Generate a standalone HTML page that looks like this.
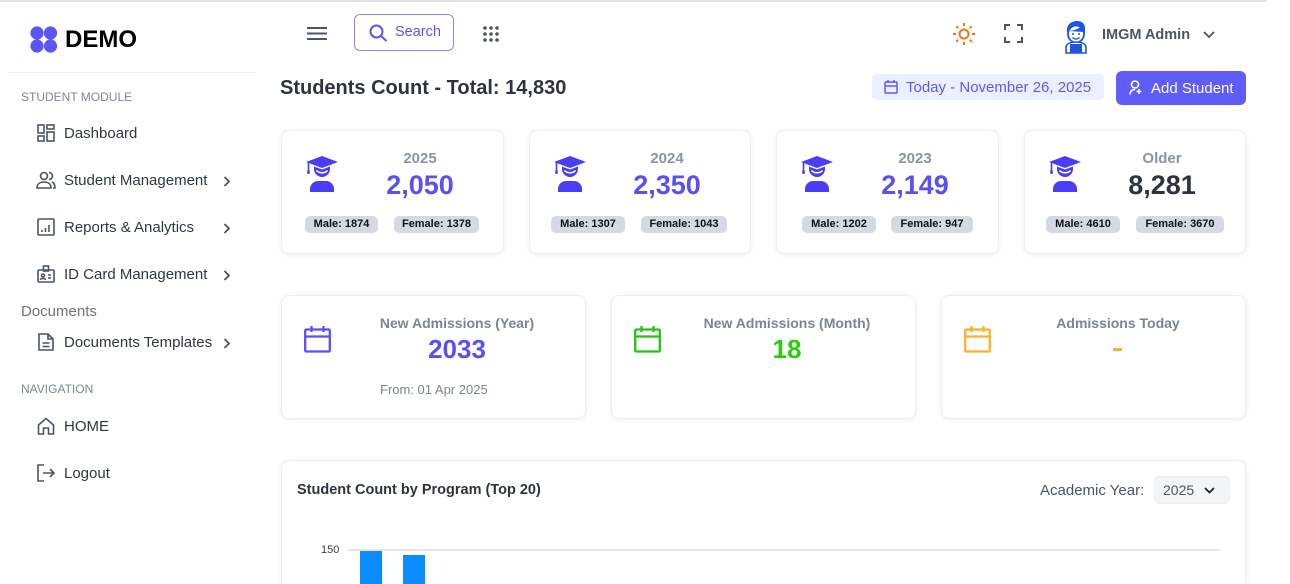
<!DOCTYPE html>
<html><head><meta charset="utf-8">
<style>
*{margin:0;padding:0;box-sizing:border-box}
html,body{width:1290px;height:584px;overflow:hidden;background:#fff;font-family:"Liberation Sans",Arial,sans-serif}
.t{position:absolute;white-space:nowrap;line-height:1}
.card{position:absolute;background:#fff;border:1px solid #eceef2;border-radius:8px;box-shadow:0 1px 5px rgba(0,0,0,0.07)}
.pill{position:absolute;height:17px;line-height:17px;background:#d5d9e1;border-radius:5px;font-size:11px;font-weight:bold;color:#111;text-align:center;white-space:nowrap}
.nav{font-size:15px;color:#2d3748}
svg{position:absolute;overflow:visible}
</style></head><body>
<!-- top line -->
<div style="position:absolute;left:0;top:0;width:1267px;height:2px;background:#e2e2e2"></div>

<!-- Logo -->
<svg style="left:30px;top:26px" width="28" height="27" viewBox="0 0 28 27">
<circle cx="7" cy="7" r="6.6" fill="#5b55f5"/><circle cx="20.5" cy="7" r="6.6" fill="#5b55f5"/>
<circle cx="7" cy="20" r="6.6" fill="#5b55f5"/><circle cx="20.5" cy="20" r="6.6" fill="#5b55f5"/>
</svg>
<div class="t" style="left:65px;top:28px;font-size:24px;font-weight:bold;color:#000">DEMO</div>
<div style="position:absolute;left:8px;top:72px;width:247px;height:1px;background:#eef0f4"></div>

<!-- Sidebar -->
<div class="t" style="left:21px;top:91px;font-size:12px;color:#7b8794">STUDENT MODULE</div>

<svg style="left:37px;top:124px" width="18" height="18" viewBox="0 0 18 18" fill="none" stroke="#4a5568" stroke-width="1.6">
<rect x="1" y="1" width="6" height="8"/><rect x="10" y="1" width="7" height="4"/><rect x="1" y="12" width="6" height="5"/><rect x="10" y="8" width="7" height="9"/></svg>
<div class="t nav" style="left:64px;top:126px">Dashboard</div>

<svg style="left:36px;top:171px" width="20" height="18" viewBox="0 0 20 18" fill="none" stroke="#4a5568" stroke-width="1.6">
<circle cx="8" cy="5" r="3.5"/><path d="M1 17c0-4 3-6 7-6s7 2 7 6z"/><path d="M13 1.5a3.5 3.5 0 0 1 0 7M16 11c2 1 3 3 3 6h-2"/></svg>
<div class="t nav" style="left:64px;top:173px">Student Management</div>
<svg style="left:223px;top:176px" width="8" height="11" viewBox="0 0 8 11" fill="none" stroke="#4a5568" stroke-width="1.8"><path d="M1.5 1l4.5 4.5-4.5 4.5"/></svg>

<svg style="left:37px;top:218px" width="18" height="18" viewBox="0 0 18 18" fill="none" stroke="#4a5568" stroke-width="1.6">
<rect x="1" y="1" width="16" height="16" rx="1"/><path d="M5 14v-2M8.5 14v-4M12 14v-7"/></svg>
<div class="t nav" style="left:64px;top:220px">Reports &amp; Analytics</div>
<svg style="left:223px;top:223px" width="8" height="11" viewBox="0 0 8 11" fill="none" stroke="#4a5568" stroke-width="1.8"><path d="M1.5 1l4.5 4.5-4.5 4.5"/></svg>

<svg style="left:37px;top:265px" width="18" height="18" viewBox="0 0 18 18" fill="none" stroke="#4a5568" stroke-width="1.6">
<rect x="1" y="5" width="16" height="12" rx="1"/><rect x="6.5" y="1" width="5" height="5"/><circle cx="6" cy="10.5" r="1.5"/><path d="M3.5 15c0-2 5-2 5 0M11 10h3M11 13h3"/></svg>
<div class="t nav" style="left:64px;top:267px">ID Card Management</div>
<svg style="left:223px;top:270px" width="8" height="11" viewBox="0 0 8 11" fill="none" stroke="#4a5568" stroke-width="1.8"><path d="M1.5 1l4.5 4.5-4.5 4.5"/></svg>

<div class="t" style="left:21px;top:304px;font-size:15px;color:#6b7280">Documents</div>

<svg style="left:38px;top:333px" width="16" height="18" viewBox="0 0 16 18" fill="none" stroke="#4a5568" stroke-width="1.6">
<path d="M1 1h9l5 5v11H1z"/><path d="M10 1v5h5M4.5 10h7M4.5 13.5h7"/></svg>
<div class="t nav" style="left:64px;top:335px">Documents Templates</div>
<svg style="left:223px;top:338px" width="8" height="11" viewBox="0 0 8 11" fill="none" stroke="#4a5568" stroke-width="1.8"><path d="M1.5 1l4.5 4.5-4.5 4.5"/></svg>

<div class="t" style="left:21px;top:383px;font-size:12px;color:#7b8794">NAVIGATION</div>

<svg style="left:37px;top:417px" width="18" height="18" viewBox="0 0 18 18" fill="none" stroke="#4a5568" stroke-width="1.6">
<path d="M1.5 8L9 1.5 16.5 8v9h-5v-6h-5v6h-5z"/></svg>
<div class="t nav" style="left:64px;top:419px">HOME</div>

<svg style="left:37px;top:464px" width="18" height="18" viewBox="0 0 18 18" fill="none" stroke="#4a5568" stroke-width="1.6">
<path d="M7 1H1v16h6M6 9h11M13 5l4 4-4 4"/></svg>
<div class="t nav" style="left:64px;top:466px">Logout</div>

<!-- Header -->
<svg style="left:307px;top:27px" width="20" height="13" viewBox="0 0 20 13" fill="none" stroke="#4a5568" stroke-width="2"><path d="M0 1h20M0 6.5h20M0 12h20"/></svg>
<div style="position:absolute;left:354px;top:14px;width:100px;height:37px;border:1px solid #8d86f6;border-radius:6px"></div>
<svg style="left:369px;top:24px" width="19" height="18" viewBox="0 0 19 18" fill="none" stroke="#5b55f0" stroke-width="2"><circle cx="7.5" cy="7.5" r="6"/><path d="M12 12l5.5 5"/></svg>
<div class="t" style="left:395px;top:25px;font-size:14.5px;color:#5b55f0">Search</div>
<svg style="left:483px;top:26px" width="16" height="16" viewBox="0 0 16 16" fill="#4a5568">
<circle cx="2" cy="2" r="1.8"/><circle cx="8" cy="2" r="1.8"/><circle cx="14" cy="2" r="1.8"/>
<circle cx="2" cy="8" r="1.8"/><circle cx="8" cy="8" r="1.8"/><circle cx="14" cy="8" r="1.8"/>
<circle cx="2" cy="14" r="1.8"/><circle cx="8" cy="14" r="1.8"/><circle cx="14" cy="14" r="1.8"/></svg>

<svg style="left:953px;top:23px" width="22" height="22" viewBox="0 0 22 22" fill="none" stroke="#f97316" stroke-width="2">
<circle cx="11" cy="11" r="4.5"/><path d="M11 0v3M11 19v3M0 11h3M19 11h3M3.2 3.2l2.1 2.1M16.7 16.7l2.1 2.1M3.2 18.8l2.1-2.1M16.7 5.3l2.1-2.1"/></svg>
<svg style="left:1004px;top:24px" width="19" height="19" viewBox="0 0 19 19" fill="none" stroke="#4a5568" stroke-width="2">
<path d="M1 6V1h5M13 1h5v5M18 13v5h-5M6 18H1v-5"/></svg>

<svg style="left:1063px;top:20px" width="26" height="33" viewBox="0 0 26 33">
<path d="M4 12c-1-7 4-11 10-11 5 0 8 3 8 7v5z" fill="#1f56e0"/>
<ellipse cx="13" cy="14" rx="8" ry="8.5" fill="#fff" stroke="#1f56e0" stroke-width="1.8"/>
<path d="M5 11c3 0 9-1 14-5l2 6z" fill="#1f56e0"/>
<circle cx="10" cy="14" r="1" fill="#1f56e0"/><circle cx="16" cy="14" r="1" fill="#1f56e0"/>
<path d="M9.5 17.5c2 2 5 2 7 0" fill="none" stroke="#1f56e0" stroke-width="1.3"/>
<path d="M3 33v-5c0-4 4-6 10-6s10 2 10 6v5z" fill="#fff" stroke="#1f56e0" stroke-width="1.6"/>
<path d="M7 33v-9h12v9z" fill="#1f56e0"/>
</svg>
<div class="t" style="left:1102px;top:28px;font-size:14.5px;font-weight:bold;color:#4b5563">IMGM Admin</div>
<svg style="left:1203px;top:31px" width="12" height="8" viewBox="0 0 12 8" fill="none" stroke="#4a5568" stroke-width="1.8"><path d="M1 1l5 5 5-5"/></svg>

<!-- Title row -->
<div class="t" style="left:280px;top:78px;font-size:20px;font-weight:bold;color:#2d3340">Students Count - Total: 14,830</div>
<div style="position:absolute;left:872px;top:74px;width:232px;height:26px;background:#eceffd;border-radius:4px"></div>
<svg style="left:884px;top:80px" width="14" height="14" viewBox="0 0 14 14" fill="none" stroke="#5f5af0" stroke-width="1.5"><rect x="1" y="2" width="12" height="11" rx="1"/><path d="M1 6h12M4 0v3M10 0v3"/></svg>
<div class="t" style="left:906px;top:80px;font-size:15px;color:#5f5af0">Today - November 26, 2025</div>
<div style="position:absolute;left:1116px;top:71px;width:130px;height:34px;background:#605cf8;border-radius:6px"></div>
<svg style="left:1129px;top:80px" width="14" height="15" viewBox="0 0 14 15" fill="none" stroke="#fff" stroke-width="1.6"><circle cx="6" cy="4.5" r="3.5"/><path d="M1 14.5c0-3 2-5 5-5M10 9v5M7.5 11.5h5"/></svg>
<div class="t" style="left:1151px;top:81px;font-size:15px;color:#fff">Add Student</div>

<!-- Stat cards row 1 -->
<div class="card" style="left:281px;top:130px;width:223px;height:124px"></div>
<div class="card" style="left:529px;top:130px;width:222px;height:124px"></div>
<div class="card" style="left:776px;top:130px;width:223px;height:124px"></div>
<div class="card" style="left:1024px;top:130px;width:222px;height:124px"></div>

<svg style="left:306px;top:156px" width="32" height="36" viewBox="0 0 32 36" fill="#4a3df5">
<path d="M16 0L32 6 16 12 0 6z"/><path d="M2.5 6.5v9" stroke="#4a3df5" stroke-width="1.6"/><rect x="1.2" y="14" width="2.6" height="4" rx="1"/>
<path d="M8 10.5L16 13.5 24 10.5V13a8 8 0 0 1-16 0z"/><path d="M10.5 14.5c2.5 3 8.5 3 11 0" fill="none" stroke="#fff" stroke-width="1.5"/>
<path d="M4 36v-3a8 8 0 0 1 8-8h8a8 8 0 0 1 8 8v3z"/></svg>
<svg style="left:554px;top:156px" width="32" height="36" viewBox="0 0 32 36" fill="#4a3df5">
<path d="M16 0L32 6 16 12 0 6z"/><path d="M2.5 6.5v9" stroke="#4a3df5" stroke-width="1.6"/><rect x="1.2" y="14" width="2.6" height="4" rx="1"/>
<path d="M8 10.5L16 13.5 24 10.5V13a8 8 0 0 1-16 0z"/><path d="M10.5 14.5c2.5 3 8.5 3 11 0" fill="none" stroke="#fff" stroke-width="1.5"/>
<path d="M4 36v-3a8 8 0 0 1 8-8h8a8 8 0 0 1 8 8v3z"/></svg>
<svg style="left:801px;top:156px" width="32" height="36" viewBox="0 0 32 36" fill="#4a3df5">
<path d="M16 0L32 6 16 12 0 6z"/><path d="M2.5 6.5v9" stroke="#4a3df5" stroke-width="1.6"/><rect x="1.2" y="14" width="2.6" height="4" rx="1"/>
<path d="M8 10.5L16 13.5 24 10.5V13a8 8 0 0 1-16 0z"/><path d="M10.5 14.5c2.5 3 8.5 3 11 0" fill="none" stroke="#fff" stroke-width="1.5"/>
<path d="M4 36v-3a8 8 0 0 1 8-8h8a8 8 0 0 1 8 8v3z"/></svg>
<svg style="left:1049px;top:156px" width="32" height="36" viewBox="0 0 32 36" fill="#4a3df5">
<path d="M16 0L32 6 16 12 0 6z"/><path d="M2.5 6.5v9" stroke="#4a3df5" stroke-width="1.6"/><rect x="1.2" y="14" width="2.6" height="4" rx="1"/>
<path d="M8 10.5L16 13.5 24 10.5V13a8 8 0 0 1-16 0z"/><path d="M10.5 14.5c2.5 3 8.5 3 11 0" fill="none" stroke="#fff" stroke-width="1.5"/>
<path d="M4 36v-3a8 8 0 0 1 8-8h8a8 8 0 0 1 8 8v3z"/></svg>

<div class="t" style="left:370px;width:100px;text-align:center;top:151px;font-size:15px;font-weight:bold;color:#8a94a6">2025</div>
<div class="t" style="left:360px;width:120px;text-align:center;top:172px;font-size:27px;font-weight:bold;color:#5a4ff5">2,050</div>
<div class="t" style="left:617px;width:100px;text-align:center;top:151px;font-size:15px;font-weight:bold;color:#8a94a6">2024</div>
<div class="t" style="left:607px;width:120px;text-align:center;top:172px;font-size:27px;font-weight:bold;color:#5a4ff5">2,350</div>
<div class="t" style="left:865px;width:100px;text-align:center;top:151px;font-size:15px;font-weight:bold;color:#8a94a6">2023</div>
<div class="t" style="left:855px;width:120px;text-align:center;top:172px;font-size:27px;font-weight:bold;color:#5a4ff5">2,149</div>
<div class="t" style="left:1112px;width:100px;text-align:center;top:151px;font-size:15px;font-weight:bold;color:#8a94a6">Older</div>
<div class="t" style="left:1102px;width:120px;text-align:center;top:172px;font-size:27px;font-weight:bold;color:#2d3340">8,281</div>

<div class="pill" style="left:305px;top:216px;width:73px">Male: 1874</div>
<div class="pill" style="left:394px;top:216px;width:85px">Female: 1378</div>
<div class="pill" style="left:551px;top:216px;width:74px">Male: 1307</div>
<div class="pill" style="left:641px;top:216px;width:86px">Female: 1043</div>
<div class="pill" style="left:802px;top:216px;width:74px">Male: 1202</div>
<div class="pill" style="left:891px;top:216px;width:82px">Female: 947</div>
<div class="pill" style="left:1046px;top:216px;width:74px">Male: 4610</div>
<div class="pill" style="left:1136px;top:216px;width:88px">Female: 3670</div>

<!-- Row 2 -->
<div class="card" style="left:281px;top:295px;width:305px;height:124px"></div>
<div class="card" style="left:611px;top:295px;width:305px;height:124px"></div>
<div class="card" style="left:941px;top:295px;width:305px;height:124px"></div>

<svg style="left:304px;top:326px" width="27" height="27" viewBox="0 0 27 27" fill="none" stroke="#5a4ff5" stroke-width="2.3"><rect x="1.2" y="3.5" width="24.6" height="22" rx="1"/><path d="M1.2 10.5h24.6M7.5 0v6M19.5 0v6"/></svg>
<svg style="left:634px;top:326px" width="27" height="27" viewBox="0 0 27 27" fill="none" stroke="#26c412" stroke-width="2.3"><rect x="1.2" y="3.5" width="24.6" height="22" rx="1"/><path d="M1.2 10.5h24.6M7.5 0v6M19.5 0v6"/></svg>
<svg style="left:964px;top:326px" width="27" height="27" viewBox="0 0 27 27" fill="none" stroke="#fbb12a" stroke-width="2.3"><rect x="1.2" y="3.5" width="24.6" height="22" rx="1"/><path d="M1.2 10.5h24.6M7.5 0v6M19.5 0v6"/></svg>

<div class="t" style="left:357px;width:200px;text-align:center;top:316px;font-size:14px;font-weight:bold;color:#7b8494">New Admissions (Year)</div>
<div class="t" style="left:397px;width:120px;text-align:center;top:336px;font-size:26px;font-weight:bold;color:#5a4ff5">2033</div>
<div class="t" style="left:380px;top:383px;font-size:13px;color:#7b8494">From: 01 Apr 2025</div>

<div class="t" style="left:667px;width:240px;text-align:center;top:316px;font-size:14px;font-weight:bold;color:#7b8494">New Admissions (Month)</div>
<div class="t" style="left:727px;width:120px;text-align:center;top:336px;font-size:26px;font-weight:bold;color:#2ecc0f">18</div>

<div class="t" style="left:1018px;width:200px;text-align:center;top:316px;font-size:14px;font-weight:bold;color:#7b8494">Admissions Today</div>
<div style="position:absolute;left:1113px;top:348px;width:9px;height:3px;background:#fbb12a"></div>

<!-- Chart card (cut off at bottom) -->
<div class="card" style="left:281px;top:460px;width:965px;height:124px;border-bottom:none;border-radius:8px 8px 0 0"></div>
<div class="t" style="left:297px;top:483px;font-size:14.5px;font-weight:bold;color:#2d3340">Student Count by Program (Top 20)</div>
<div class="t" style="left:1040px;top:483px;font-size:15px;color:#4a5568">Academic Year:</div>
<div style="position:absolute;left:1154px;top:476px;width:76px;height:28px;background:#f3f4f6;border:1px solid #eceef1;border-radius:5px"></div>
<div class="t" style="left:1163px;top:483px;font-size:14px;color:#4a5568">2025</div>
<svg style="left:1204px;top:487px" width="11" height="7" viewBox="0 0 11 7" fill="none" stroke="#222" stroke-width="1.8"><path d="M1 1l4.5 4.5L10 1"/></svg>

<div class="t" style="left:321px;top:545px;font-size:11px;color:#373d3f">150</div>
<div style="position:absolute;left:348px;top:549px;width:872px;height:2px;background:#e6e6e6"></div>
<div style="position:absolute;left:360px;top:551px;width:22px;height:33px;background:#0a8cff"></div>
<div style="position:absolute;left:403px;top:555px;width:22px;height:29px;background:#0a8cff"></div>
</body></html>
